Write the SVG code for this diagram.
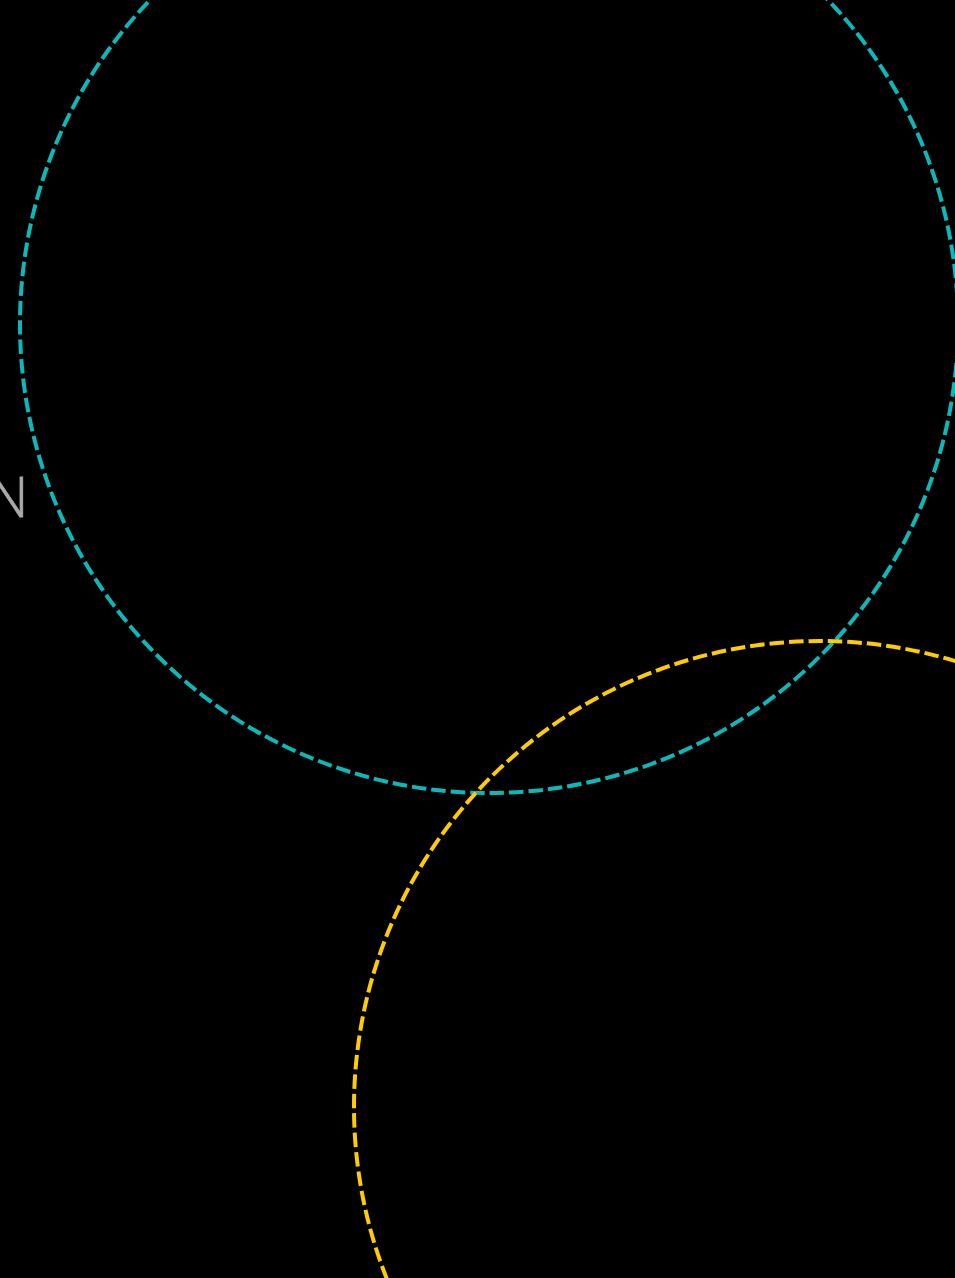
<svg xmlns="http://www.w3.org/2000/svg" width="955" height="1278" viewBox="0 0 955 1278">
  <style>
    .ring { fill: none; stroke-width: 4; stroke-dasharray: 14.5 5; }
    .label { font-family: "Open Sans", "Liberation Sans", sans-serif; font-weight: 300; font-size: 56px; fill: #aaaaaa; stroke: #aaaaaa; stroke-width: 0.8; }
  </style>
  <rect x="0" y="0" width="955" height="1278" fill="#000000"/>
  <g id="label-n">
    <text class="label" x="-12" y="517">N</text>
  </g>
  <g id="circle-cyan">
    <circle class="ring" cx="489" cy="324" r="469" stroke="#0ababa"/>
  </g>
  <g id="circle-yellow">
    <circle class="ring" cx="820" cy="1107" r="466" stroke="#ffcc00"/>
  </g>
  <g id="connectors"></g>
</svg>
